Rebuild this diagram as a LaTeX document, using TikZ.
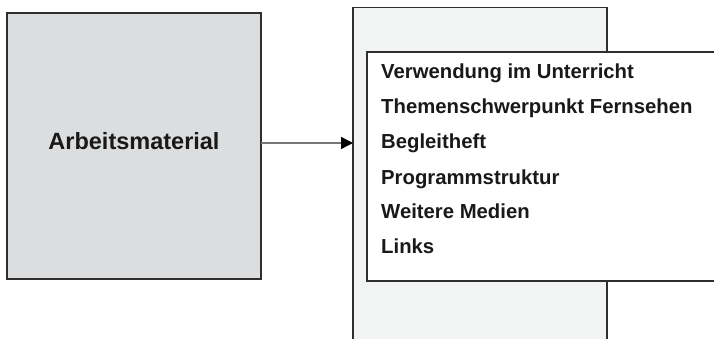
\documentclass[tikz,border=0pt]{standalone}
\usepackage{fontspec}
\setmainfont{Liberation Sans}
\usetikzlibrary{arrows.meta}
\definecolor{boxgray}{HTML}{DCDDDF}
\definecolor{panelgray}{HTML}{F2F3F3}
\definecolor{edge}{HTML}{2E2E2E}
\definecolor{linegray}{HTML}{777777}
\tikzset{
  frame/.style={draw=edge, line width=1.1pt, inner sep=0pt, outer sep=0pt},
  itemtext/.style={anchor=base west, inner sep=0pt, font=\fontsize{20.3}{24}\selectfont\bfseries, text=black!90},
}
\begin{document}
\begin{tikzpicture}[x=1pt,y=-1pt]
\clip (0,0) rectangle (714,339);
\fill[white] (0,0) rectangle (714,339);
% left box
\node[frame, fill=boxgray, minimum width=254pt, minimum height=266pt] (src) at (134,146) {};
\node[anchor=base, inner sep=0pt, font=\fontsize{23.5}{28}\selectfont\bfseries, text=black!90] (srclabel) at (134,150) {Arbeitsmaterial};
% tall panel (extends below the bottom edge)
\node[frame, fill=panelgray, minimum width=254pt, minimum height=345pt] (panel) at (480,180) {};
% white menu box (extends beyond the right edge)
\node[frame, fill=white, minimum width=360pt, minimum height=229pt] (menu) at (547,166.5) {};
% items
\node[itemtext] (i1) at (381,79) {Verwendung im Unterricht};
\node[itemtext] (i2) at (381,114) {Themenschwerpunkt Fernsehen};
\node[itemtext] (i3) at (381,149) {Begleitheft};
\node[itemtext] (i4) at (381,184) {Programmstruktur};
\node[itemtext] (i5) at (381,218) {Weitere Medien};
\node[itemtext] (i6) at (381,253) {Links};
% arrow
\coordinate (tip) at (panel.west |- 0,143);
\draw[linegray, line width=1.4pt, -{Triangle[length=12pt,width=12pt,color=black]}] (src.east |- tip) -- (tip);
\end{tikzpicture}
\end{document}
